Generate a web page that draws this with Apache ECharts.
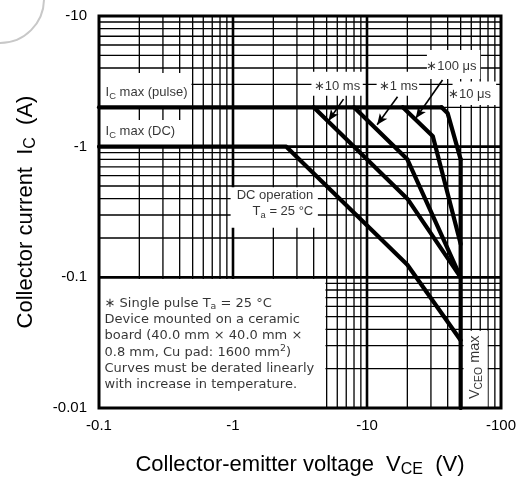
<!DOCTYPE html>
<html>
<head>
<meta charset="utf-8">
<script src="https://cdn.jsdelivr.net/npm/echarts@6/dist/echarts.min.js"></script>
<style>
  html, body { margin: 0; padding: 0; background: #fff; }
  #chart { width: 528px; height: 479px; }
</style>
</head>
<body>
<div id="chart"></div>
<script>
// ---- Axis ranges and tick labels (values are magnitudes, labels carry the sign) ----
const xRange = [0.1, 100];
const yRange = [0.01, 10];
const xTickValues = [0.1, 1, 10, 100];
const xTickLabels = ['-0.1', '-1', '-10', '-100'];
const yTickValues = [0.01, 0.1, 1, 10];
const yTickLabels = ['-0.01', '-0.1', '-1', '-10'];

// Log grid: decade lines plus 2..9 within every decade
const gridDecadesX = [0.1, 1, 10];
const gridDecadesY = [0.01, 0.1, 1];
const minorSteps = [2, 3, 4, 5, 6, 7, 8, 9];

// ---- Safe operating area boundaries: [|VCE| (V), |IC| (A)] ----
const icMaxPulse = [[0.1, 2], [36, 2]];
const soa10us   = [[36, 2], [40, 1.8], [50, 0.8]];
const soa100us  = [[18.5, 2], [31, 1.2], [50, 0.18]];
const soa1ms    = [[8, 2], [20, 0.8], [50, 0.1]];
const soa10ms   = [[4, 2], [20, 0.4], [50, 0.1]];
const soaDC     = [[0.1, 1], [2.5, 1], [20, 0.125], [50, 0.033]];
const vceoMax   = [[50, 0.8], [50, 0.01]];

const FONT = '"Liberation Sans", Arial, Helvetica, sans-serif';
const NOTE_FONT = '"DejaVu Sans", "Liberation Sans", sans-serif';

function richFor(size, family) {
  const s = Math.round(size * 0.72 * 10) / 10;
  const shift = Math.round(size * 0.55);
  return {
    sub: { fontSize: s, fontFamily: family, color: '#000', padding: [shift, 0, 0, 0] },
    sup: { fontSize: s, fontFamily: family, color: '#000', padding: [0, 0, shift, 0] }
  };
}

function tickText(values, labels) {
  return function (v) {
    const i = values.findIndex(t => Math.abs(Math.log10(t) - Math.log10(v)) < 1e-6);
    return i < 0 ? '' : labels[i];
  };
}

// Grid line records: [x, y, orientation (0 = vertical, 1 = horizontal), major flag]
const gridLines = [];
gridDecadesX.forEach(d => {
  if (d > xRange[0]) gridLines.push([d, 1, 0, 1]);
  minorSteps.forEach(m => gridLines.push([d * m, 1, 0, 0]));
});
gridDecadesY.forEach(d => {
  if (d > yRange[0]) gridLines.push([1, d, 1, 1]);
  minorSteps.forEach(m => gridLines.push([1, d * m, 1, 0]));
});

// White panels behind the annotations: [x0, y0, x1, y1] in axis units
const panels = [
  [0.1, 2, 0.49, 3.66],       // I_C max (pulse)
  [0.1, 1, 0.47, 1.6],        // I_C max (DC)
  [3.85, 2.45, 9.3, 3.75],    // *10 ms
  [11.8, 2.45, 24.5, 3.75],   // *1 ms
  [28, 3.3, 70, 5.5],         // *100 us
  [43.5, 2.08, 92, 3.15],     // *10 us
  [0.96, 0.24, 4.3, 0.49],    // DC operation
  [0.1, 0.01, 4.9, 0.097],    // note block
  [52.5, 0.01, 79.5, 0.039]   // VCEO max
];

// Text annotations, anchored in axis units
const annotations = [
  { at: [0.112, 2.58], text: 'I{sub|C} max (pulse)', pos: 'right' },
  { at: [0.112, 1.30], text: 'I{sub|C} max (DC)', pos: 'right' },
  { at: [5.97, 2.91], text: '\u221710 ms', pos: 'inside' },
  { at: [17.1, 2.91], text: '\u22171 ms', pos: 'inside' },
  { at: [42.6, 4.09], text: '\u2217100 \u03bcs', pos: 'inside' },
  { at: [58.2, 2.52], text: '\u221710 \u03bcs', pos: 'inside' },
  { at: [3.97, 0.422], text: 'DC operation', pos: 'left' },
  { at: [3.97, 0.318], text: 'T{sub|a} = 25 \u00b0C', pos: 'left' },
  { at: [0.110, 0.0633], text: '\u2217 Single pulse T{sub|a} = 25 \u00b0C', pos: 'right', font: NOTE_FONT },
  { at: [0.110, 0.0478], text: 'Device mounted on a ceramic', pos: 'right', font: NOTE_FONT },
  { at: [0.110, 0.0358], text: 'board (40.0 mm \u00d7 40.0 mm \u00d7', pos: 'right', font: NOTE_FONT },
  { at: [0.110, 0.0267], text: '0.8 mm, Cu pad: 1600 mm{sup|2})', pos: 'right', font: NOTE_FONT },
  { at: [0.110, 0.0199], text: 'Curves must be derated linearly', pos: 'right', font: NOTE_FONT },
  { at: [0.110, 0.0150], text: 'with increase in temperature.', pos: 'right', font: NOTE_FONT },
  { at: [64, 0.0205], text: 'V{sub|CEO} max', pos: 'inside', rotate: 90, size: 14.5 }
];

// Pointer arrows from the pulse-width labels to their curves
const pointers = [
  [[6.68, 2.31], [5.16, 1.58]],
  [[16.9, 2.41], [11.9, 1.47]],
  [[36.6, 3.24], [23.1, 1.65]]
];

function curve(name, data) {
  return {
    name: name, type: 'line', data: data, z: 4,
    symbol: 'none', silent: true, animation: false,
    lineStyle: { color: '#000', width: 4.2, cap: 'round', join: 'round' }
  };
}

const chart = echarts.init(document.getElementById('chart'), null, { renderer: 'canvas' });

chart.setOption({
  animation: false,
  backgroundColor: '#fff',
  grid: { left: 99, right: 27, top: 16, bottom: 71, outerBoundsMode: 'none', containLabel: false },
  graphic: {
    elements: [{
      type: 'circle', silent: true,
      shape: { cx: 0, cy: -1, r: 44 },
      style: { fill: 'none', stroke: '#c8c8c8', lineWidth: 2 }
    }]
  },
  xAxis: {
    type: 'log', logBase: 10, min: xRange[0], max: xRange[1],
    axisLine: { show: false }, axisTick: { show: false }, splitLine: { show: false },
    axisLabel: {
      formatter: tickText(xTickValues, xTickLabels),
      fontFamily: FONT, fontSize: 15, color: '#000', margin: 10,
      showMinLabel: true, showMaxLabel: true
    },
    name: 'Collector-emitter voltage  V{sub|CE}  (V)',
    nameLocation: 'middle', nameGap: 44,
    nameTextStyle: {
      fontFamily: FONT, fontSize: 22, color: '#000',
      rich: { sub: { fontFamily: FONT, fontSize: 16, color: '#000', padding: [10, 0, 0, 0] } }
    }
  },
  yAxis: {
    type: 'log', logBase: 10, min: yRange[0], max: yRange[1],
    axisLine: { show: false }, axisTick: { show: false }, splitLine: { show: false },
    axisLabel: {
      formatter: tickText(yTickValues, yTickLabels),
      fontFamily: FONT, fontSize: 15, color: '#000', margin: 12,
      showMinLabel: true, showMaxLabel: true
    },
    name: 'Collector current  I{sub|C}  (A)',
    nameLocation: 'middle', nameGap: 60, nameRotate: 90,
    nameTextStyle: {
      fontFamily: FONT, fontSize: 22, color: '#000',
      rich: { sub: { fontFamily: FONT, fontSize: 16, color: '#000', padding: [10, 0, 0, 0] } }
    }
  },
  series: [
    // log grid
    {
      type: 'custom', coordinateSystem: 'cartesian2d', z: 1, silent: true,
      encode: { x: 0, y: 1 },
      data: gridLines,
      renderItem: function (params, api) {
        const horizontal = api.value(2) === 1;
        const major = api.value(3) === 1;
        let p1, p2;
        if (horizontal) {
          p1 = api.coord([xRange[0], api.value(1)]);
          p2 = api.coord([xRange[1], api.value(1)]);
        } else {
          p1 = api.coord([api.value(0), yRange[0]]);
          p2 = api.coord([api.value(0), yRange[1]]);
        }
        return {
          type: 'line',
          shape: { x1: p1[0], y1: p1[1], x2: p2[0], y2: p2[1] },
          style: { stroke: '#000', lineWidth: major ? 2.6 : 1.3 }
        };
      }
    },
    // white panels behind labels
    {
      type: 'custom', coordinateSystem: 'cartesian2d', z: 2, silent: true,
      encode: { x: [0, 2], y: [1, 3] },
      data: panels,
      renderItem: function (params, api) {
        const a = api.coord([api.value(0), api.value(1)]);
        const b = api.coord([api.value(2), api.value(3)]);
        return {
          type: 'rect',
          shape: {
            x: Math.min(a[0], b[0]), y: Math.min(a[1], b[1]),
            width: Math.abs(b[0] - a[0]), height: Math.abs(b[1] - a[1])
          },
          style: { fill: '#fff' }
        };
      }
    },
    Object.assign(curve('I_C max (pulse)', icMaxPulse), {
      markLine: {
        silent: true, animation: false,
        symbol: ['none', 'arrow'], symbolSize: [7, 11],
        label: { show: false },
        lineStyle: { color: '#000', width: 1.6, type: 'solid' },
        data: pointers.map(p => [{ coord: p[0] }, { coord: p[1] }])
      }
    }),
    curve('10 us', soa10us),
    curve('100 us', soa100us),
    curve('1 ms', soa1ms),
    curve('10 ms', soa10ms),
    curve('DC operation', soaDC),
    curve('VCEO max', vceoMax),
    // annotation texts
    {
      type: 'scatter', z: 6, silent: true, symbolSize: 0,
      data: annotations.map(a => {
        const fam = a.font || FONT;
        const size = a.size || 13;
        return {
          value: a.at,
          label: {
            show: true, formatter: a.text, position: a.pos, distance: 0,
            rotate: a.rotate || 0,
            fontFamily: fam, fontSize: size, color: '#000',
            rich: richFor(size, fam)
          }
        };
      })
    },
    // plot frame
    {
      type: 'custom', coordinateSystem: 'cartesian2d', z: 8, silent: true,
      encode: { x: [0, 2], y: [1, 3] },
      data: [[xRange[0], yRange[0], xRange[1], yRange[1]]],
      renderItem: function (params, api) {
        const a = api.coord([api.value(0), api.value(1)]);
        const b = api.coord([api.value(2), api.value(3)]);
        return {
          type: 'rect',
          shape: { x: a[0], y: b[1], width: b[0] - a[0], height: a[1] - b[1] },
          style: { fill: 'none', stroke: '#000', lineWidth: 3 }
        };
      }
    }
  ]
});
</script>
</body>
</html>
